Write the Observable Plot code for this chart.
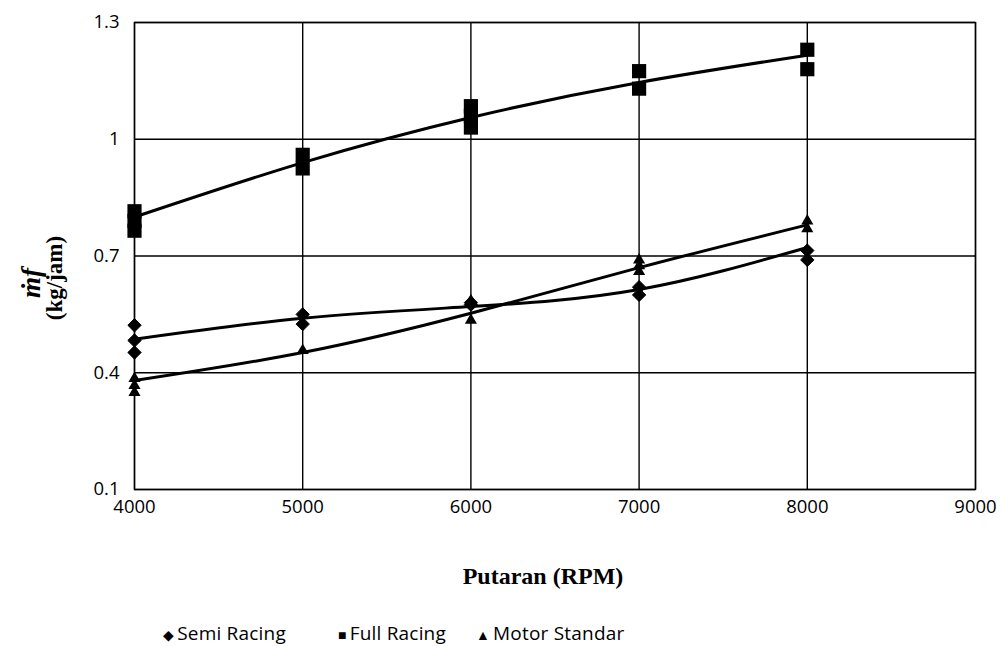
<!DOCTYPE html>
<html>
<head>
<meta charset="utf-8">
<script src="https://cdn.jsdelivr.net/npm/d3@7"></script>
<script src="https://cdn.jsdelivr.net/npm/@observablehq/plot@0.6"></script>
<style>
  body { margin: 0; background: #fff; }
  #legend { position: relative; height: 26px; margin-top: 30px; font-family: "Open Sans", sans-serif; font-size: 19px; color: #000; line-height: 26px; }
  #legend .item { position: absolute; top: 0; white-space: nowrap; letter-spacing: 0.2px; }
  #legend .sym { font-size: 14px; margin-right: 3px; }
</style>
</head>
<body>
<div id="chart"></div>
<div id="legend"></div>
<script>
// ---- data ----
const rpmTicks = [4000, 5000, 6000, 7000, 8000, 9000];
const yTicks = [0.1, 0.4, 0.7, 1, 1.3];
const rpm = [4000, 5000, 6000, 7000, 8000];

const semiX = [4000, 4000, 4000, 5000, 5000, 6000, 6000, 7000, 7000, 8000, 8000];
const semiY = [0.522, 0.483, 0.452, 0.55, 0.525, 0.58, 0.575, 0.62, 0.60, 0.714, 0.69];

const fullX = [4000, 4000, 4000, 5000, 5000, 6000, 6000, 6000, 7000, 7000, 8000, 8000];
const fullY = [0.815, 0.79, 0.765, 0.96, 0.925, 1.085, 1.06, 1.03, 1.175, 1.13, 1.23, 1.18];

const stdX = [4000, 4000, 4000, 5000, 6000, 6000, 7000, 7000, 7000, 8000, 8000];
const stdY = [0.385, 0.367, 0.349, 0.457, 0.585, 0.535, 0.69, 0.675, 0.66, 0.79, 0.77];

// trend lines
const semiTrend = [0.486, 0.54, 0.57, 0.614, 0.722];
const fullTrend = [0.80, 0.94, 1.056, 1.146, 1.216];
const stdTrend = [0.38, 0.452, 0.553, 0.67, 0.78];

const seriesNames = ["Semi Racing", "Full Racing", "Motor Standar"];
const xLabel = "Putaran (RPM)";
const yLabel1 = "ṁf";
const yLabel2 = "(kg/jam)";

// ---- build tables ----
const pts = (xs, ys) => xs.map((x, i) => ({x, y: ys[i]}));
const trend = (ys) => rpm.map((x, i) => ({x, y: ys[i]}));
const fmt = d => String(d);

const chart = Plot.plot({
  width: 1004,
  height: 590,
  marginLeft: 134,
  marginRight: 29,
  marginTop: 22,
  marginBottom: 101,
  style: {fontFamily: "'Open Sans', sans-serif", fontSize: "18.5px", color: "#000", background: "#fff"},
  x: {domain: [4000, 9000]},
  y: {domain: [0.1, 1.3]},
  marks: [
    Plot.gridX(rpmTicks, {stroke: "#000", strokeOpacity: 1, strokeWidth: 1.4}),
    Plot.gridY(yTicks, {stroke: "#000", strokeOpacity: 1, strokeWidth: 1.4}),
    Plot.frame({stroke: "#000", strokeWidth: 1.4}),
    Plot.axisX(rpmTicks, {tickSize: 0, tickPadding: 10, label: null, tickFormat: fmt, fontSize: 18.5}),
    Plot.axisY(yTicks, {tickSize: 0, tickPadding: 15, label: null, tickFormat: fmt, fontSize: 18.5}),
    Plot.line(trend(fullTrend), {x: "x", y: "y", stroke: "#000", strokeWidth: 3, curve: "natural"}),
    Plot.line(trend(semiTrend), {x: "x", y: "y", stroke: "#000", strokeWidth: 3, curve: "natural"}),
    Plot.line(trend(stdTrend), {x: "x", y: "y", stroke: "#000", strokeWidth: 3, curve: "natural"}),
    Plot.dot(pts(fullX, fullY), {x: "x", y: "y", symbol: "square", r: 8, fill: "#000"}),
    Plot.dot(pts(semiX, semiY), {x: "x", y: "y", symbol: "diamond2", r: 6, fill: "#000", stroke: "#000", strokeWidth: 1}),
    Plot.dot(pts(stdX, stdY), {x: "x", y: "y", symbol: "triangle", r: 4.5, fill: "#000"}),
    Plot.text([xLabel], {frameAnchor: "bottom", dy: 87, dx: -12, text: d => d, fontFamily: "'Liberation Serif', serif", fontWeight: "bold", fontSize: 24, textAnchor: "middle", lineAnchor: "middle"}),
    Plot.text([yLabel1], {frameAnchor: "left", dx: -103, dy: 27, rotate: -90, text: d => d, fontFamily: "'Liberation Serif', serif", fontWeight: "bold", fontStyle: "italic", fontSize: 27, textAnchor: "middle", lineAnchor: "middle"}),
    Plot.text([yLabel2], {frameAnchor: "left", dx: -80, dy: 22, rotate: -90, text: d => d, fontFamily: "'Liberation Serif', serif", fontWeight: "bold", fontSize: 23, textAnchor: "middle", lineAnchor: "middle"})
  ]
});
document.getElementById("chart").appendChild(chart);

const syms = ["◆", "■", "▲"];
const legendLeft = [163, 338, 476];
document.getElementById("legend").innerHTML = seriesNames
  .map((n, i) => `<span class="item" style="left:${legendLeft[i]}px"><span class="sym">${syms[i]}</span>${n}</span>`)
  .join("");
</script>
</body>
</html>
